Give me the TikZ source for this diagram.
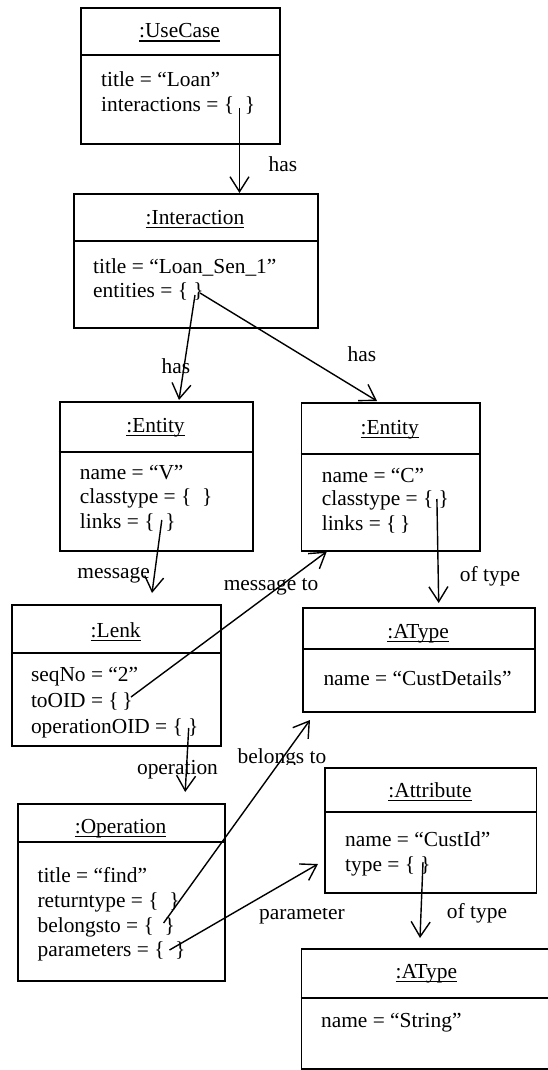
\documentclass[tikz,border=0pt]{standalone}
\usepackage{fontspec}
\setmainfont{Liberation Serif}
\usetikzlibrary{arrows.meta}

% underlined object title, rule set just under the baseline
\newcommand\objtitle[1]{\setbox0=\hbox{#1}\rlap{\rule[-3.6pt]{\wd0}{1.1pt}}\box0}

\tikzset{
  txt/.style={font=\fontsize{21.4}{25}\selectfont, inner sep=0pt},
  objbox/.style={draw, line width=1.8pt, rectangle, inner sep=0pt},
  objline/.style={line width=1.8pt},
  titletext/.style={txt, anchor=base},
  attrtext/.style={txt, anchor=base west},
  lbl/.style={txt, anchor=base},
  rel/.style={line width=1.4pt, -{Straight Barb[length=15pt,width=19pt,line width=1.4pt]}},
}

% #1 name, #2 left, #3 right, #4 top, #5 divider, #6 bottom, #7 title baseline, #8 title
\newcommand\umlobject[8]{%
  \node[objbox, anchor=north west, minimum width={#3-#2}, minimum height={#6-#4}] (#1) at (#2,#4) {};
  \draw[objline] (#2,#5) -- (#3,#5);
  \node[titletext] (#1-title) at ({(#2+#3)/2},#7) {\objtitle{#8}};
}

\begin{document}
\begin{tikzpicture}[x=1pt,y=-1pt]
\useasboundingbox (0,0) rectangle (548,1070);
\fill[white] (0,0) rectangle (548,1070);

% ---------- objects ----------
\umlobject{usecase}{80}{279}{7}{55}{143}{38}{:UseCase}
\node[attrtext] (usecase-a1) at (101,87)  {title = “Loan”};
\node[attrtext] (usecase-a2) at (101,112) {interactions = \{\ \ \}};

\umlobject{inter}{73}{317}{193}{241}{327}{224}{:Interaction}
\node[attrtext] (inter-a1) at (93,273) {title = “Loan\_Sen\_1”};
\node[attrtext] (inter-a2) at (93,297) {entities = \{\ \}};

\umlobject{entv}{58.7}{252.4}{401}{452}{550}{432}{:Entity}
\node[attrtext] (entv-a1) at (79.7,479) {name = “V”};
\node[attrtext] (entv-a2) at (79.7,503) {classtype = \{\ \ \}};
\node[attrtext] (entv-a3) at (79.7,528) {links = \{\ \ \}};

\umlobject{entc}{300.6}{478.8}{402}{454}{550}{434}{:Entity}
\node[attrtext] (entc-a1) at (321.6,482) {name = “C”};
\node[attrtext] (entc-a2) at (321.6,505) {classtype = \{\ \}};
\node[attrtext] (entc-a3) at (321.6,530) {links = \{\,\}};

\umlobject{lenk}{11.2}{220.2}{604}{653}{745}{637}{:Lenk}
\node[attrtext] (lenk-a1) at (30.8,681) {seqNo = “2”};
\node[attrtext] (lenk-a2) at (30.8,707) {toOID = \{\,\}};
\node[attrtext] (lenk-a3) at (30.8,733) {operationOID = \{\ \}};

\umlobject{atypec}{302.3}{534}{607}{649}{711}{638}{:AType}
\node[attrtext] (atypec-a1) at (323.3,685) {name = “CustDetails”};

\umlobject{oper}{16.8}{224.4}{803}{842}{980}{833}{:Operation}
\node[attrtext] (oper-a1) at (37.4,882) {title = “find”};
\node[attrtext] (oper-a2) at (37.4,907) {returntype = \{\ \ \}};
\node[attrtext] (oper-a3) at (37.4,932) {belongsto = \{\ \ \}};
\node[attrtext] (oper-a4) at (37.4,956) {parameters = \{\ \ \}};

\umlobject{attrib}{324.4}{535.5}{767}{812}{892}{797}{:Attribute}
\node[attrtext] (attrib-a1) at (345,846) {name = “CustId”};
\node[attrtext] (attrib-a2) at (345,871) {type = \{\ \}};

\umlobject{atypes}{300.6}{552}{948}{998}{1068}{978}{:AType}
\node[attrtext] (atypes-a1) at (320.9,1027) {name = “String”};

% ---------- link end points (inside the braces / near the targets) ----------
\coordinate (usecase-s) at (239.5,108);
\coordinate (inter-s1)  at (195,295);
\coordinate (inter-s2)  at (200,293);
\coordinate (entv-in)   at (179,400);
\coordinate (entc-in)   at (377,401);
\coordinate (entv-s)    at (161.8,520);
\coordinate (lenk-in)   at (152,593);
\coordinate (lenk-s1)   at (131,697);
\coordinate (entc-out)  at (326.8,551.5);
\coordinate (entc-s)    at (436.9,499);
\coordinate (atypec-in) at (438.7,603);
\coordinate (lenk-s2)   at (188.7,728);
\coordinate (oper-in)   at (185.2,792);
\coordinate (oper-s1)   at (163.6,923);
\coordinate (atypec-out) at (310,720);
\coordinate (oper-s2)   at (169.5,950);
\coordinate (attrib-in) at (318,864);
\coordinate (attrib-s)  at (423,862);
\coordinate (atypes-in) at (420,938);

% ---------- links ----------
\draw[rel] (usecase-s) -- (usecase-s |- inter.north);
\draw[rel] (inter-s1) -- (entv-in);
\draw[rel] (inter-s2) -- (entc-in);
\draw[rel] (entv-s) -- (lenk-in);
\draw[rel] (lenk-s1) -- (entc-out);
\draw[rel] (entc-s) -- (atypec-in);
\draw[rel] (lenk-s2) -- (oper-in);
\draw[rel] (oper-s1) -- (atypec-out);
\draw[rel] (oper-s2) -- (attrib-in);
\draw[rel] (attrib-s) -- (atypes-in);

% ---------- link labels ----------
\node[lbl] (l-has1) at (283,171) {has};
\node[lbl] (l-has2) at (176,373) {has};
\node[lbl] (l-has3) at (362,361) {has};
\node[lbl] (l-msg)  at (113.6,578) {message};
\node[lbl] (l-msgto) at (271,590) {message to};
\node[lbl] (l-type1) at (490,581) {of type};
\node[lbl] (l-op)   at (177.5,774) {operation};
\begin{scope}
  \clip (200,730) rectangle (360,764.5);
  \node[lbl] (l-belongs) at (282,763) {belongs to};
\end{scope}
\begin{scope}
  \clip (240,908) rectangle (360,940);
  \node[lbl] (l-param) at (302,919) {parameter};
\end{scope}
\node[lbl] (l-type2) at (477,918) {of type};

\end{tikzpicture}
\end{document}
